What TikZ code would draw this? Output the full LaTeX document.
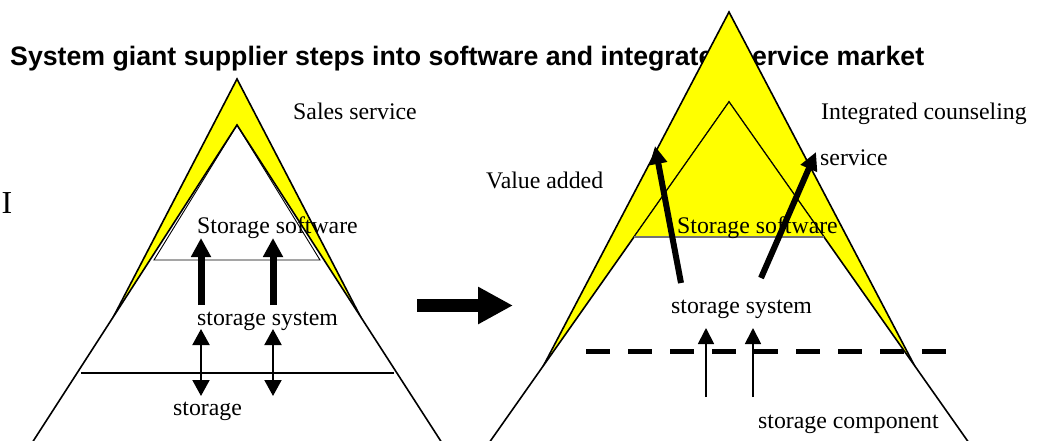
\documentclass[tikz,border=0pt]{standalone}
\usepackage{fontspec}
\setmainfont{Liberation Serif}
\newfontfamily\headfont{Liberation Sans}
\usetikzlibrary{arrows.meta}
\definecolor{lemon}{RGB}{255,255,0}
\begin{document}
\begin{tikzpicture}[x=1pt,y=-1pt,
  lbl/.style={font=\fontsize{23.8}{28}\selectfont, inner sep=0pt, anchor=base west},
  hdr/.style={font=\headfont\bfseries\fontsize{26.7}{30}\selectfont, inner sep=0pt, anchor=base west},
  rim/.style={draw=black, line width=1.6pt, line join=miter},
  hair/.style={draw=black, line width=0.9pt},
  fatup/.style={line width=7pt, -{Triangle[length=19pt,width=19pt]}},
  slant/.style={line width=6pt, -{Triangle[length=18pt,width=17pt]}},
  twoway/.style={line width=2pt, {Triangle[length=16pt,width=17pt]}-{Triangle[length=16pt,width=17pt]}},
  oneway/.style={line width=1.8pt, -{Triangle[length=16pt,width=16pt]}},
  cut/.style={line width=5pt, dash pattern=on 24pt off 18pt},
  block/.style={line width=13pt, -{Triangle[length=35pt,width=35pt]}}
]
\useasboundingbox (0,0) rectangle (1041,441);
\clip (0,0) rectangle (1041,441);

% heading
\node[hdr] (title) at (10,66) {System giant supplier steps into software and integrated service market};

% ---------- left pyramid ----------
\fill[lemon] (237,79) -- (39,460) -- (435,460) -- cycle;
\draw[rim] (237,79) -- (39,460) -- (435,460) -- cycle;
\filldraw[fill=white, rim] (237,125) -- (21,460) -- (453,460) -- cycle;
\draw[hair] (237,125) -- (154,260) -- (320,260) -- cycle;
\draw[line width=1.6pt] (81,373) -- (394,373);

\node[font=\fontsize{32}{36}\selectfont, inner sep=0pt, anchor=base east] (cutoff) at (12.5,213) {I};
\node[lbl] (sales) at (293,120) {Sales service};
\node[lbl] (lsoft) at (197,233) {Storage software};
\node[lbl] (lsys) at (197,325) {storage system};
\node[lbl] (lstor) at (173,415) {storage};

\coordinate (la1) at (201,305); \coordinate (la1t) at (201,238);
\coordinate (la2) at (273,305); \coordinate (la2t) at (273,238);
\draw[fatup] (la1) -- (la1t);
\draw[fatup] (la2) -- (la2t);
\coordinate (lb1) at (201,329); \coordinate (lb1b) at (201,396);
\coordinate (lb2) at (273,329); \coordinate (lb2b) at (273,396);
\draw[twoway] (lb1) -- (lb1b);
\draw[twoway] (lb2) -- (lb2b);

% transition arrow
\coordinate (mid1) at (417,305.5); \coordinate (mid2) at (513,305.5);
\draw[block] (mid1) -- (mid2);

% ---------- right pyramid ----------
\fill[lemon] (729,12) -- (494,460) -- (964,460) -- cycle;
\draw[rim] (729,12) -- (494,460) -- (964,460) -- cycle;
\filldraw[fill=white, rim] (729,102) -- (477,460) -- (981,460) -- cycle;
\fill[lemon] (729,102) -- (634,237) -- (824,237) -- cycle;
\draw[hair] (634,237) -- (729,102) -- (824,237);
\draw[line width=1.2pt, black!55] (634,237) -- (824,237);

\node[lbl] (integ) at (821,120) {Integrated counseling};
\node[lbl] (serv) at (820,165) {service};
\node[lbl] (value) at (486,188) {Value added};
\node[lbl] (rsoft) at (677,233) {Storage software};
\node[lbl] (rsys) at (671,313) {storage system};
\node[lbl] (rcomp) at (758,428) {storage component};

\coordinate (ra1) at (681,283); \coordinate (ra1t) at (655,146);
\coordinate (ra2) at (761,278); \coordinate (ra2t) at (816,152);
\draw[slant] (ra1) -- (ra1t);
\draw[slant] (ra2) -- (ra2t);

\coordinate (dl) at (586,351); \coordinate (dr) at (946,351);
\draw[cut] (dl) -- (dr);

\coordinate (rb1) at (706,397); \coordinate (rb1t) at (706,328);
\coordinate (rb2) at (753,397); \coordinate (rb2t) at (753,328);
\draw[oneway] (rb1) -- (rb1t);
\draw[oneway] (rb2) -- (rb2t);
\end{tikzpicture}
\end{document}
